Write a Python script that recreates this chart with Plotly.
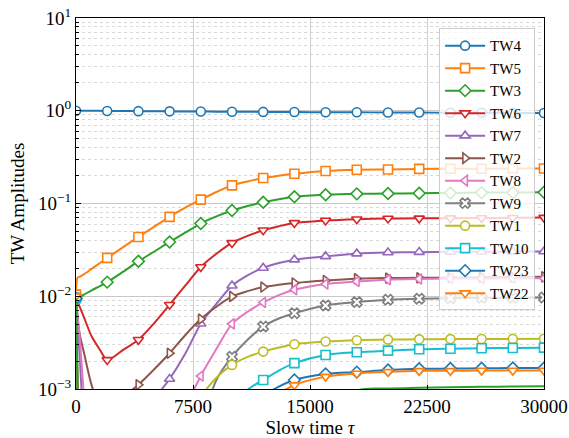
import plotly.graph_objects as go

# Slow time grid (markers are drawn on multiples of 2000)
tau = [0, 100, 250, 500, 1000, 1500, 2000, 3000, 4000, 5000, 6000, 7000, 8000, 9000,
       10000, 11000, 12000, 13000, 14000, 16000, 18000, 20000, 22000, 24000, 26000, 28000, 30000]

tw4 = [1.0, 1.0, 0.999, 0.999, 0.998, 0.997, 0.995, 0.993, 0.99, 0.988, 0.985, 0.983, 0.98, 0.978,
       0.976, 0.974, 0.972, 0.970, 0.968, 0.965, 0.962, 0.959, 0.956, 0.953, 0.950, 0.948, 0.945]
tw5 = [0.0104, 0.0158, 0.0163, 0.0172, 0.0197, 0.0226, 0.0259, 0.0336, 0.0436, 0.0560, 0.0718, 0.0900, 0.110, 0.133,
       0.157, 0.173, 0.188, 0.199, 0.209, 0.224, 0.231, 0.233, 0.236, 0.237, 0.237, 0.238, 0.238]
tw3 = [0.0094, 0.0095, 0.0097, 0.0104, 0.0116, 0.0128, 0.0142, 0.0183, 0.0238, 0.0302, 0.0385, 0.0485, 0.0608, 0.0725,
       0.084, 0.094, 0.103, 0.111, 0.118, 0.124, 0.127, 0.128, 0.129, 0.130, 0.131, 0.131, 0.132]
tw6 = [0.0095, 0.0087, 0.0076, 0.0060, 0.0037, 0.0027, 0.00206, 0.00262, 0.00339, 0.0051, 0.0081, 0.0130, 0.0207, 0.0287,
       0.0376, 0.0447, 0.0514, 0.0569, 0.0618, 0.0655, 0.0677, 0.0689, 0.0692, 0.0695, 0.0698, 0.0701, 0.0705]
tw7 = [0.0095, 0.0051, 0.00205, 4.5e-4, 1.3e-4, 8e-5, 6.3e-5, 1.26e-4, 3.5e-4, 7.6e-4, 0.00128, 0.0024, 0.00505, 0.0083,
       0.0130, 0.0168, 0.0202, 0.0228, 0.0248, 0.0269, 0.0288, 0.0296, 0.0299, 0.0301, 0.0302, 0.0303, 0.0304]
tw2 = [0.0095, 0.0060, 0.0038, 0.0025, 0.0011, 6.5e-4, 5.3e-4, 8.1e-4, 0.00111, 0.00162, 0.00243, 0.0038, 0.00567, 0.0077,
       0.00995, 0.01135, 0.01257, 0.0133, 0.0139, 0.0148, 0.01546, 0.0157, 0.0158, 0.0159, 0.0160, 0.0161, 0.0162]
tw8 = [0.0095, 0.0062, 0.0034, 9e-4, 1.5e-4, 5e-5, 2.5e-5, 1.5e-5, 1.5e-5, 3e-5, 1e-4, 6e-4, 0.00138, 0.0027,
       0.00504, 0.0068, 0.00857, 0.0103, 0.01175, 0.01355, 0.01445, 0.0151, 0.01535, 0.0155, 0.0155, 0.0156, 0.0156]
tw9 = [0.0095, 0.0012, 2e-4, 4e-5, 1e-5, 5e-6, 3e-6, 3e-6, 6e-6, 1.5e-5, 4e-5, 1.3e-4, 4e-4, 0.00125,
       0.00223, 0.0034, 0.00471, 0.00575, 0.00657, 0.00796, 0.00865, 0.00917, 0.0094, 0.0095, 0.0096, 0.0096, 0.0097]
tw1 = [0.0095, 0.0011, 1.8e-4, 3e-5, 6e-6, 3e-6, 2e-6, 2e-6, 4e-6, 1.2e-5, 4e-5, 1.8e-4, 8e-4, 0.00132,
       0.00182, 0.00222, 0.00253, 0.0028, 0.00304, 0.00325, 0.00336, 0.00341, 0.00343, 0.00345, 0.00346, 0.00347, 0.00348]
tw10 = [0.0095, 0.0010, 1.5e-4, 2e-5, 4e-6, 2e-6, 1e-6, 1e-6, 2e-6, 5e-6, 1.5e-5, 4e-5, 1.1e-4, 2.8e-4,
        5.8e-4, 9.8e-4, 0.00125, 0.00158, 0.00190, 0.00233, 0.00249, 0.00259, 0.00268, 0.00272, 0.00275, 0.00277, 0.00279]
tw23 = [0.0095, 0.0009, 1.2e-4, 1.5e-5, 3e-6, 1.5e-6, 1e-6, 1e-6, 1.5e-6, 3e-6, 8e-6, 2e-5, 5e-5, 1.2e-4,
        2.6e-4, 5e-4, 8.3e-4, 0.00106, 0.00125, 0.00145, 0.00152, 0.00160, 0.00165, 0.00166, 0.00167, 0.00168, 0.00168]
tw22 = [0.0100, 0.0009, 1.2e-4, 1.5e-5, 3e-6, 1.5e-6, 1e-6, 1e-6, 1.5e-6, 3e-6, 7e-6, 1.5e-5, 3.5e-5, 8e-5,
        1.6e-4, 3e-4, 5.5e-4, 8.7e-4, 0.0011, 0.00136, 0.00147, 0.00153, 0.00157, 0.00157, 0.00158, 0.00158, 0.00158]
tw_extra = [0.0095, 0.0009, 1e-4, 1e-5, 2e-6, 1e-6, 8e-7, 8e-7, 1e-6, 1.5e-6, 2.5e-6, 4e-6, 7e-6, 1.2e-5,
            2e-5, 3.5e-5, 6e-5, 1e-4, 1.7e-4, 4e-4, 9.6e-4, 1.012e-3, 1.03e-3, 1.045e-3, 1.055e-3, 1.065e-3, 1.07e-3]

names = ["TW4", "TW5", "TW3", "TW6", "TW7", "TW2", "TW8", "TW9", "TW1", "TW10", "TW23", "TW22"]
values = [tw4, tw5, tw3, tw6, tw7, tw2, tw8, tw9, tw1, tw10, tw23, tw22]
colors = ["#1f77b4", "#ff7f0e", "#2ca02c", "#d62728", "#9467bd", "#8c564b",
          "#e377c2", "#7f7f7f", "#bcbd22", "#17becf", "#1f77b4", "#ff7f0e"]
symbols = ["circle", "square", "diamond", "triangle-down", "triangle-up", "triangle-right",
           "triangle-left", "x", "circle", "square", "diamond", "triangle-down"]

x_ticks = [0, 7500, 15000, 22500, 30000]
y_ticks = [1e-3, 1e-2, 1e-1, 1e0, 1e1]
y_ticktext = ["10<sup>\u22123</sup>", "10<sup>\u22122</sup>", "10<sup>\u22121</sup>", "10<sup>0</sup>", "10<sup>1</sup>"]

FONT = "Liberation Serif"
marker_idx = [i for i, t in enumerate(tau) if t % 2000 == 0]

fig = go.Figure()
for name, vals, col, sym in zip(names, values, colors, symbols):
    fig.add_trace(go.Scatter(
        x=tau, y=vals, name=name, mode="lines+markers",
        line=dict(color=col, width=2, shape="spline", smoothing=0.8),
        marker=dict(symbol=sym, size=9, color="white", line=dict(color=col, width=1.6)),
        selectedpoints=marker_idx,
        selected=dict(marker=dict(opacity=1)),
        unselected=dict(marker=dict(opacity=0)),
    ))

fig.add_trace(go.Scatter(
    x=tau, y=tw_extra, mode="lines", showlegend=False,
    line=dict(color="#2ca02c", width=2, shape="spline", smoothing=0.8),
))

minor_vals = [k * 10.0 ** e for e in range(-3, 1) for k in range(2, 10)]

fig.update_layout(
    width=569, height=438,
    margin=dict(l=76, r=25, t=18, b=49, autoexpand=False),
    paper_bgcolor="white", plot_bgcolor="white",
    font=dict(family=FONT, size=19, color="black"),
    showlegend=True,
    legend=dict(
        x=0.981, xanchor="right", y=0.972, yanchor="top",
        bgcolor="rgba(255,255,255,0.8)", bordercolor="#cccccc", borderwidth=1,
        font=dict(family=FONT, size=15, color="black"),
        itemwidth=40, tracegroupgap=0,
    ),
    xaxis=dict(
        range=[0, 30000], tickmode="array", tickvals=x_ticks,
        ticktext=[str(v) for v in x_ticks], automargin=False,
        showgrid=True, gridcolor="#d0d0d0", gridwidth=1, zeroline=False,
        showline=True, linecolor="black", linewidth=1, mirror=True,
        ticks="inside", ticklen=4, tickcolor="black",
        title=dict(text="Slow time <i>\u03c4</i>", font=dict(family=FONT, size=19), standoff=6),
    ),
    yaxis=dict(
        type="log", range=[-3, 1], tickmode="array", tickvals=y_ticks, ticktext=y_ticktext,
        automargin=False,
        showgrid=True, gridcolor="#c8c8c8", gridwidth=1, zeroline=False,
        showline=True, linecolor="black", linewidth=1, mirror=True,
        ticks="inside", ticklen=5, tickcolor="black",
        minor=dict(tickmode="array", tickvals=minor_vals, ticks="inside", ticklen=3,
                   tickcolor="black", showgrid=True, gridcolor="#d8d8d8", griddash="dot", gridwidth=1),
        title=dict(text="TW Amplitudes", font=dict(family=FONT, size=19), standoff=8),
    ),
)

fig.write_html("out.html")
